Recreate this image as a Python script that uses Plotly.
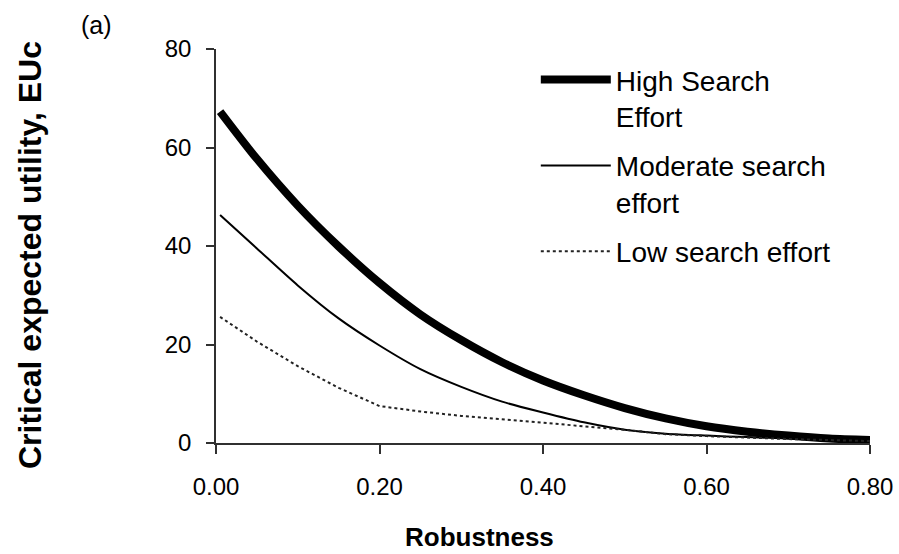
import plotly.graph_objects as go

# ---- data ----
high_x = [0.005, 0.05, 0.10, 0.15, 0.20, 0.25, 0.30, 0.35, 0.40, 0.45,
          0.50, 0.55, 0.60, 0.65, 0.70, 0.75, 0.80]
high_y = [67.3, 57.7, 48.2, 39.9, 32.5, 26.1, 20.9, 16.4, 12.7, 9.7,
          7.1, 5.0, 3.4, 2.3, 1.5, 0.9, 0.6]

mod_x = [0.005, 0.05, 0.10, 0.15, 0.20, 0.25, 0.30, 0.35, 0.40, 0.45,
         0.50, 0.55, 0.60, 0.65, 0.70, 0.75, 0.80]
mod_y = [46.3, 39.5, 32.0, 25.3, 19.8, 15.0, 11.4, 8.4, 6.2, 4.2,
         2.7, 1.9, 1.5, 1.2, 0.9, 0.7, 0.5]

low_x = [0.005, 0.05, 0.10, 0.15, 0.20, 0.25, 0.30, 0.35, 0.40, 0.45,
         0.50, 0.55, 0.60, 0.70, 0.80]
low_y = [25.6, 20.6, 15.6, 11.2, 7.5, 6.4, 5.5, 4.8, 4.1, 3.4,
         2.7, 1.8, 1.4, 0.8, 0.4]

series_names = ["High Search<br>Effort", "Moderate search<br>effort", "Low search effort"]
x_ticks = [0.0, 0.2, 0.4, 0.6, 0.8]
x_ticklabels = ["0.00", "0.20", "0.40", "0.60", "0.80"]
y_ticks = [0, 20, 40, 60, 80]

FONT = "Liberation Sans, Arial, sans-serif"
AX = "#303030"

fig = go.Figure()
fig.add_trace(go.Scatter(x=high_x, y=high_y, mode="lines", name=series_names[0],
                         line=dict(color="black", width=8, shape="spline", smoothing=0.8),
                         legendgroup="a"))
fig.add_trace(go.Scatter(x=mod_x, y=mod_y, mode="lines", name=series_names[1],
                         line=dict(color="black", width=2, shape="spline", smoothing=0.8),
                         legendgroup="b"))
fig.add_trace(go.Scatter(x=low_x, y=low_y, mode="lines", name=series_names[2],
                         line=dict(color="#222222", width=2, dash="dot"),
                         legendgroup="c"))

fig.update_layout(
    width=899, height=554,
    margin=dict(l=216, r=29, t=49, b=111, autoexpand=False),
    paper_bgcolor="white", plot_bgcolor="white",
    font=dict(family=FONT, color="black"),
    showlegend=True,
    legend=dict(x=0.489, y=0.985, xanchor="left", yanchor="top",
                font=dict(size=28, family=FONT, color="black"),
                valign="top", itemwidth=70, tracegroupgap=10,
                bgcolor="rgba(0,0,0,0)"),
    xaxis=dict(range=[0, 0.8], tickvals=x_ticks, ticktext=x_ticklabels,
               automargin=False,
               showline=True, linecolor=AX, linewidth=1.5,
               ticks="outside", ticklen=9, tickcolor=AX, tickwidth=1.5,
               showgrid=False, zeroline=False,
               tickfont=dict(size=24, family=FONT, color="black"),
               ticklabelstandoff=12),
    yaxis=dict(range=[0, 80], tickvals=y_ticks,
               automargin=False,
               showline=True, linecolor=AX, linewidth=1.5,
               ticks="outside", ticklen=8, tickcolor=AX, tickwidth=1.5,
               showgrid=False, zeroline=False,
               tickfont=dict(size=24, family=FONT, color="black"),
               ticklabelstandoff=10),
    annotations=[
        dict(text="<b>Robustness</b>", xref="paper", yref="paper",
             x=(479 - 216) / 654, y=-(537 - 443) / 394, xanchor="center", yanchor="middle",
             showarrow=False, font=dict(size=26, family=FONT, color="black")),
        dict(text="<b>Critical expected utility, EUc</b>", xref="paper", yref="paper",
             x=-(216 - 30) / 654, y=(443 - 255) / 394, xanchor="center", yanchor="middle",
             textangle=-90, showarrow=False, font=dict(size=32, family=FONT, color="black")),
        dict(text="(a)", xref="paper", yref="paper",
             x=-(216 - 96) / 654, y=(443 - 25) / 394, xanchor="center", yanchor="middle",
             showarrow=False, font=dict(size=25, family=FONT, color="black")),
    ],
)

fig.write_html("out.html", config={"displayModeBar": False},
               post_script="document.body.style.margin='0px';")
